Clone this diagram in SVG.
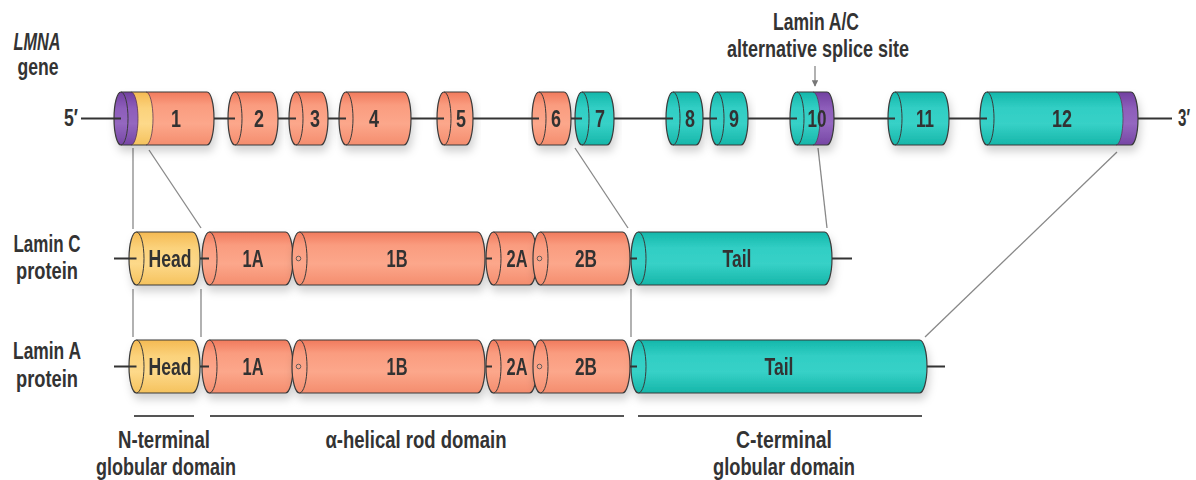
<svg xmlns="http://www.w3.org/2000/svg" width="1196" height="480" viewBox="0 0 1196 480">
<defs>
<linearGradient id="gS" x1="0" y1="0" x2="0" y2="1">
<stop offset="0" stop-color="#F17A5D"/><stop offset="0.25" stop-color="#FA9C7F"/><stop offset="0.6" stop-color="#FCA78B"/><stop offset="1" stop-color="#F48D6E"/>
</linearGradient>
<linearGradient id="gT" x1="0" y1="0" x2="0" y2="1">
<stop offset="0" stop-color="#14B7AA"/><stop offset="0.3" stop-color="#31CEC4"/><stop offset="0.6" stop-color="#37D1C7"/><stop offset="1" stop-color="#16B6A9"/>
</linearGradient>
<linearGradient id="gY" x1="0" y1="0" x2="0" y2="1">
<stop offset="0" stop-color="#F5BA52"/><stop offset="0.3" stop-color="#FBD27B"/><stop offset="0.6" stop-color="#FDD98A"/><stop offset="1" stop-color="#F5C25D"/>
</linearGradient>
<linearGradient id="gP" x1="0" y1="0" x2="0" y2="1">
<stop offset="0" stop-color="#7140A0"/><stop offset="0.3" stop-color="#8D5DBA"/><stop offset="0.6" stop-color="#9467C0"/><stop offset="1" stop-color="#7646A4"/>
</linearGradient>
<filter id="sh" x="-10%" y="-30%" width="130%" height="180%">
<feDropShadow dx="2" dy="6" stdDeviation="4" flood-color="#000" flood-opacity="0.18"/>
</filter>
<marker id="arr" viewBox="0 0 10 10" refX="9" refY="5" markerWidth="5" markerHeight="5" orient="auto">
<path d="M0,0 L10,5 L0,10 Z" fill="#777"/>
</marker>
<style>
.t{font-family:"Liberation Sans",Arial,sans-serif;font-weight:bold;font-size:23px;fill:#333;text-anchor:middle}
.o{fill:none;stroke:#3a3a3a;stroke-width:1.2}
.ia{fill:none;stroke:#3a3a3a;stroke-width:1}
.b{fill:none;stroke:#5a3a55;stroke-width:0.8}
.s{fill:url(#gS)}.tl{fill:url(#gT)}.y{fill:url(#gY)}.p{fill:url(#gP)}
.ln{stroke:#333;stroke-width:2.2;fill:none}
.cn{stroke:#888;stroke-width:1.3;fill:none}
.br{stroke:#555;stroke-width:2;fill:none}
.hc{fill:#FCA78B;stroke:#555;stroke-width:0.9}
</style>
</defs>
<rect width="1196" height="480" fill="#fff"/>

<g id="labels">
<text class="t" x="37" y="50" font-style="italic" textLength="47" lengthAdjust="spacingAndGlyphs">LMNA</text>
<text class="t" x="38" y="75" textLength="41" lengthAdjust="spacingAndGlyphs">gene</text>
<text class="t" x="816" y="30" textLength="86" lengthAdjust="spacingAndGlyphs">Lamin A/C</text>
<text class="t" x="818" y="57" textLength="182" lengthAdjust="spacingAndGlyphs">alternative splice site</text>
<text class="t" x="71" y="126" textLength="14" lengthAdjust="spacingAndGlyphs">5′</text>
<text class="t" x="1184" y="126" textLength="12" lengthAdjust="spacingAndGlyphs">3′</text>
<text class="t" x="47" y="252" textLength="67" lengthAdjust="spacingAndGlyphs">Lamin C</text>
<text class="t" x="47" y="279" textLength="62" lengthAdjust="spacingAndGlyphs">protein</text>
<text class="t" x="47" y="359" textLength="68" lengthAdjust="spacingAndGlyphs">Lamin A</text>
<text class="t" x="47" y="387" textLength="62" lengthAdjust="spacingAndGlyphs">protein</text>
<text class="t" x="164" y="448" textLength="92" lengthAdjust="spacingAndGlyphs">N-terminal</text>
<text class="t" x="166" y="475" textLength="140" lengthAdjust="spacingAndGlyphs">globular domain</text>
<text class="t" x="416" y="448" textLength="181" lengthAdjust="spacingAndGlyphs">α-helical rod domain</text>
<text class="t" x="784" y="448" textLength="96" lengthAdjust="spacingAndGlyphs">C-terminal</text>
<text class="t" x="784" y="475" textLength="142" lengthAdjust="spacingAndGlyphs">globular domain</text>
</g>

<g id="connectors">
<line class="cn" x1="133" y1="148" x2="133" y2="229"/>
<line class="cn" x1="149" y1="150" x2="201" y2="228"/>
<line class="cn" x1="575" y1="148" x2="628" y2="228"/>
<line class="cn" x1="818" y1="148" x2="827" y2="228"/>
<line class="cn" x1="1117" y1="152" x2="925" y2="337"/>
<line class="cn" x1="133" y1="289" x2="133" y2="337"/>
<line class="cn" x1="201" y1="289" x2="201" y2="337"/>
<line class="cn" x1="631" y1="289" x2="631" y2="337"/>
<line class="cn" x1="815" y1="66" x2="815" y2="86" marker-end="url(#arr)"/>
<line class="br" x1="134" y1="416" x2="194" y2="416"/>
<line class="br" x1="210" y1="416" x2="624" y2="416"/>
<line class="br" x1="638" y1="416" x2="922" y2="416"/>
</g>

<g id="exon1" filter="url(#sh)">
<path class="s" d="M121,92 L207,92 A7 26.5 0 0 1 207,145 L121,145 A7 26.5 0 0 1 121,92Z"/>
<path class="y" d="M131,92 L146,92 A7 26.5 0 0 1 146,145 L131,145 A7 26.5 0 0 0 131,92Z"/>
<path class="p" d="M121,92 L131,92 A7 26.5 0 0 1 131,145 L121,145 A7 26.5 0 0 1 121,92Z"/>
<path class="b" d="M131,92 A7 26.5 0 0 1 131,145"/>
<path class="b" d="M146,92 A7 26.5 0 0 1 146,145"/>
<path class="ia" d="M121,92 A7 26.5 0 0 1 121,145"/>
<path class="o" d="M121,92 L207,92 A7 26.5 0 0 1 207,145 L121,145 A7 26.5 0 0 1 121,92Z"/>
<text class="t" x="176" y="127" textLength="10" lengthAdjust="spacingAndGlyphs">1</text>
</g>
<g id="exon2" filter="url(#sh)">
<path class="s" d="M235,92 L271,92 A7 26.5 0 0 1 271,145 L235,145 A7 26.5 0 0 1 235,92Z"/>
<path class="ia" d="M235,92 A7 26.5 0 0 1 235,145"/>
<path class="o" d="M235,92 L271,92 A7 26.5 0 0 1 271,145 L235,145 A7 26.5 0 0 1 235,92Z"/>
<text class="t" x="259" y="127" textLength="10" lengthAdjust="spacingAndGlyphs">2</text>
</g>
<g id="exon3" filter="url(#sh)">
<path class="s" d="M296,92 L321,92 A7 26.5 0 0 1 321,145 L296,145 A7 26.5 0 0 1 296,92Z"/>
<path class="ia" d="M296,92 A7 26.5 0 0 1 296,145"/>
<path class="o" d="M296,92 L321,92 A7 26.5 0 0 1 321,145 L296,145 A7 26.5 0 0 1 296,92Z"/>
<text class="t" x="315" y="127" textLength="10" lengthAdjust="spacingAndGlyphs">3</text>
</g>
<g id="exon4" filter="url(#sh)">
<path class="s" d="M346,92 L404,92 A7 26.5 0 0 1 404,145 L346,145 A7 26.5 0 0 1 346,92Z"/>
<path class="ia" d="M346,92 A7 26.5 0 0 1 346,145"/>
<path class="o" d="M346,92 L404,92 A7 26.5 0 0 1 404,145 L346,145 A7 26.5 0 0 1 346,92Z"/>
<text class="t" x="374" y="127" textLength="10" lengthAdjust="spacingAndGlyphs">4</text>
</g>
<g id="exon5" filter="url(#sh)">
<path class="s" d="M444,92 L466,92 A7 26.5 0 0 1 466,145 L444,145 A7 26.5 0 0 1 444,92Z"/>
<path class="ia" d="M444,92 A7 26.5 0 0 1 444,145"/>
<path class="o" d="M444,92 L466,92 A7 26.5 0 0 1 466,145 L444,145 A7 26.5 0 0 1 444,92Z"/>
<text class="t" x="461" y="127" textLength="10" lengthAdjust="spacingAndGlyphs">5</text>
</g>
<g id="exon6" filter="url(#sh)">
<path class="s" d="M539,92 L564,92 A7 26.5 0 0 1 564,145 L539,145 A7 26.5 0 0 1 539,92Z"/>
<path class="ia" d="M539,92 A7 26.5 0 0 1 539,145"/>
<path class="o" d="M539,92 L564,92 A7 26.5 0 0 1 564,145 L539,145 A7 26.5 0 0 1 539,92Z"/>
<text class="t" x="556" y="127" textLength="10" lengthAdjust="spacingAndGlyphs">6</text>
</g>
<g id="exon7" filter="url(#sh)">
<path class="tl" d="M582,92 L607,92 A7 26.5 0 0 1 607,145 L582,145 A7 26.5 0 0 1 582,92Z"/>
<path class="ia" d="M582,92 A7 26.5 0 0 1 582,145"/>
<path class="o" d="M582,92 L607,92 A7 26.5 0 0 1 607,145 L582,145 A7 26.5 0 0 1 582,92Z"/>
<text class="t" x="600" y="127" textLength="10" lengthAdjust="spacingAndGlyphs">7</text>
</g>
<g id="exon8" filter="url(#sh)">
<path class="tl" d="M673,92 L696,92 A7 26.5 0 0 1 696,145 L673,145 A7 26.5 0 0 1 673,92Z"/>
<path class="ia" d="M673,92 A7 26.5 0 0 1 673,145"/>
<path class="o" d="M673,92 L696,92 A7 26.5 0 0 1 696,145 L673,145 A7 26.5 0 0 1 673,92Z"/>
<text class="t" x="690" y="127" textLength="10" lengthAdjust="spacingAndGlyphs">8</text>
</g>
<g id="exon9" filter="url(#sh)">
<path class="tl" d="M717,92 L741,92 A7 26.5 0 0 1 741,145 L717,145 A7 26.5 0 0 1 717,92Z"/>
<path class="ia" d="M717,92 A7 26.5 0 0 1 717,145"/>
<path class="o" d="M717,92 L741,92 A7 26.5 0 0 1 741,145 L717,145 A7 26.5 0 0 1 717,92Z"/>
<text class="t" x="734" y="127" textLength="10" lengthAdjust="spacingAndGlyphs">9</text>
</g>
<g id="exon10" filter="url(#sh)">
<path class="tl" d="M797,92 L827,92 A7 26.5 0 0 1 827,145 L797,145 A7 26.5 0 0 1 797,92Z"/>
<path class="p" d="M813,92 L827,92 A7 26.5 0 0 1 827,145 L813,145 A7 26.5 0 0 0 813,92Z"/>
<path class="b" d="M813,92 A7 26.5 0 0 1 813,145"/>
<path class="ia" d="M797,92 A7 26.5 0 0 1 797,145"/>
<path class="o" d="M797,92 L827,92 A7 26.5 0 0 1 827,145 L797,145 A7 26.5 0 0 1 797,92Z"/>
<text class="t" x="817" y="127" textLength="19" lengthAdjust="spacingAndGlyphs">10</text>
</g>
<g id="exon11" filter="url(#sh)">
<path class="tl" d="M895,92 L942,92 A7 26.5 0 0 1 942,145 L895,145 A7 26.5 0 0 1 895,92Z"/>
<path class="ia" d="M895,92 A7 26.5 0 0 1 895,145"/>
<path class="o" d="M895,92 L942,92 A7 26.5 0 0 1 942,145 L895,145 A7 26.5 0 0 1 895,92Z"/>
<text class="t" x="925" y="127" textLength="18" lengthAdjust="spacingAndGlyphs">11</text>
</g>
<g id="exon12" filter="url(#sh)">
<path class="tl" d="M987,92 L1131,92 A7 26.5 0 0 1 1131,145 L987,145 A7 26.5 0 0 1 987,92Z"/>
<path class="p" d="M1116,92 L1131,92 A7 26.5 0 0 1 1131,145 L1116,145 A7 26.5 0 0 0 1116,92Z"/>
<path class="b" d="M1116,92 A7 26.5 0 0 1 1116,145"/>
<path class="ia" d="M987,92 A7 26.5 0 0 1 987,145"/>
<path class="o" d="M987,92 L1131,92 A7 26.5 0 0 1 1131,145 L987,145 A7 26.5 0 0 1 987,92Z"/>
<text class="t" x="1062" y="127" textLength="20" lengthAdjust="spacingAndGlyphs">12</text>
</g>
<g id="gene-line">
<path class="ln" d="M81,118.5H121 M214,118.5H235 M278,118.5H296 M328,118.5H346 M411,118.5H444 M473,118.5H539 M571,118.5H582 M614,118.5H673 M703,118.5H717 M748,118.5H797 M834,118.5H895 M949,118.5H987 M1138,118.5H1172"/>
</g>

<g id="laminC-head" filter="url(#sh)">
<path class="y" d="M136.5,232 L192.5,232 A7.5 26.5 0 0 1 192.5,285 L136.5,285 A7.5 26.5 0 0 1 136.5,232Z"/>
<path class="ia" d="M136.5,232 A7.5 26.5 0 0 1 136.5,285"/>
<path class="o" d="M136.5,232 L192.5,232 A7.5 26.5 0 0 1 192.5,285 L136.5,285 A7.5 26.5 0 0 1 136.5,232Z"/>
<text class="t" x="170" y="267" textLength="43" lengthAdjust="spacingAndGlyphs">Head</text>
</g>
<g id="laminC-1A" filter="url(#sh)">
<path class="s" d="M209.5,232 L285.5,232 A7.5 26.5 0 0 1 285.5,285 L209.5,285 A7.5 26.5 0 0 1 209.5,232Z"/>
<path class="ia" d="M209.5,232 A7.5 26.5 0 0 1 209.5,285"/>
<path class="o" d="M209.5,232 L285.5,232 A7.5 26.5 0 0 1 285.5,285 L209.5,285 A7.5 26.5 0 0 1 209.5,232Z"/>
<text class="t" x="253" y="267" textLength="21" lengthAdjust="spacingAndGlyphs">1A</text>
</g>
<g id="laminC-1B" filter="url(#sh)">
<path class="s" d="M299.5,232 L477.5,232 A7.5 26.5 0 0 1 477.5,285 L299.5,285 A7.5 26.5 0 0 1 299.5,232Z"/>
<path class="ia" d="M299.5,232 A7.5 26.5 0 0 1 299.5,285"/>
<path class="o" d="M299.5,232 L477.5,232 A7.5 26.5 0 0 1 477.5,285 L299.5,285 A7.5 26.5 0 0 1 299.5,232Z"/>
<circle class="hc" cx="298.5" cy="258.5" r="2.3"/>
<text class="t" x="397" y="267" textLength="21" lengthAdjust="spacingAndGlyphs">1B</text>
</g>
<g id="laminC-2A" filter="url(#sh)">
<path class="s" d="M493.5,232 L529.5,232 A7.5 26.5 0 0 1 529.5,285 L493.5,285 A7.5 26.5 0 0 1 493.5,232Z"/>
<path class="ia" d="M493.5,232 A7.5 26.5 0 0 1 493.5,285"/>
<path class="o" d="M493.5,232 L529.5,232 A7.5 26.5 0 0 1 529.5,285 L493.5,285 A7.5 26.5 0 0 1 493.5,232Z"/>
<text class="t" x="517" y="267" textLength="21" lengthAdjust="spacingAndGlyphs">2A</text>
</g>
<g id="laminC-2B" filter="url(#sh)">
<path class="s" d="M540.5,232 L622.5,232 A7.5 26.5 0 0 1 622.5,285 L540.5,285 A7.5 26.5 0 0 1 540.5,232Z"/>
<path class="ia" d="M540.5,232 A7.5 26.5 0 0 1 540.5,285"/>
<path class="o" d="M540.5,232 L622.5,232 A7.5 26.5 0 0 1 622.5,285 L540.5,285 A7.5 26.5 0 0 1 540.5,232Z"/>
<circle class="hc" cx="539.5" cy="258.5" r="2.3"/>
<text class="t" x="586" y="267" textLength="22" lengthAdjust="spacingAndGlyphs">2B</text>
</g>
<g id="laminC-tail" filter="url(#sh)">
<path class="tl" d="M638.5,232 L824.5,232 A7.5 26.5 0 0 1 824.5,285 L638.5,285 A7.5 26.5 0 0 1 638.5,232Z"/>
<path class="ia" d="M638.5,232 A7.5 26.5 0 0 1 638.5,285"/>
<path class="o" d="M638.5,232 L824.5,232 A7.5 26.5 0 0 1 824.5,285 L638.5,285 A7.5 26.5 0 0 1 638.5,232Z"/>
<text class="t" x="737" y="267" textLength="29" lengthAdjust="spacingAndGlyphs">Tail</text>
</g>
<g id="laminC-line">
<path class="ln" d="M114,258.5H136.5 M200,258.5H209 M486,258.5H492 M630,258.5H637 M832,258.5H852"/>
</g>

<g id="laminA-head" filter="url(#sh)">
<path class="y" d="M136.5,340 L192.5,340 A7.5 26.5 0 0 1 192.5,393 L136.5,393 A7.5 26.5 0 0 1 136.5,340Z"/>
<path class="ia" d="M136.5,340 A7.5 26.5 0 0 1 136.5,393"/>
<path class="o" d="M136.5,340 L192.5,340 A7.5 26.5 0 0 1 192.5,393 L136.5,393 A7.5 26.5 0 0 1 136.5,340Z"/>
<text class="t" x="170" y="375" textLength="43" lengthAdjust="spacingAndGlyphs">Head</text>
</g>
<g id="laminA-1A" filter="url(#sh)">
<path class="s" d="M209.5,340 L285.5,340 A7.5 26.5 0 0 1 285.5,393 L209.5,393 A7.5 26.5 0 0 1 209.5,340Z"/>
<path class="ia" d="M209.5,340 A7.5 26.5 0 0 1 209.5,393"/>
<path class="o" d="M209.5,340 L285.5,340 A7.5 26.5 0 0 1 285.5,393 L209.5,393 A7.5 26.5 0 0 1 209.5,340Z"/>
<text class="t" x="253" y="375" textLength="21" lengthAdjust="spacingAndGlyphs">1A</text>
</g>
<g id="laminA-1B" filter="url(#sh)">
<path class="s" d="M299.5,340 L477.5,340 A7.5 26.5 0 0 1 477.5,393 L299.5,393 A7.5 26.5 0 0 1 299.5,340Z"/>
<path class="ia" d="M299.5,340 A7.5 26.5 0 0 1 299.5,393"/>
<path class="o" d="M299.5,340 L477.5,340 A7.5 26.5 0 0 1 477.5,393 L299.5,393 A7.5 26.5 0 0 1 299.5,340Z"/>
<circle class="hc" cx="298.5" cy="366.5" r="2.3"/>
<text class="t" x="397" y="375" textLength="21" lengthAdjust="spacingAndGlyphs">1B</text>
</g>
<g id="laminA-2A" filter="url(#sh)">
<path class="s" d="M493.5,340 L529.5,340 A7.5 26.5 0 0 1 529.5,393 L493.5,393 A7.5 26.5 0 0 1 493.5,340Z"/>
<path class="ia" d="M493.5,340 A7.5 26.5 0 0 1 493.5,393"/>
<path class="o" d="M493.5,340 L529.5,340 A7.5 26.5 0 0 1 529.5,393 L493.5,393 A7.5 26.5 0 0 1 493.5,340Z"/>
<text class="t" x="517" y="375" textLength="21" lengthAdjust="spacingAndGlyphs">2A</text>
</g>
<g id="laminA-2B" filter="url(#sh)">
<path class="s" d="M540.5,340 L622.5,340 A7.5 26.5 0 0 1 622.5,393 L540.5,393 A7.5 26.5 0 0 1 540.5,340Z"/>
<path class="ia" d="M540.5,340 A7.5 26.5 0 0 1 540.5,393"/>
<path class="o" d="M540.5,340 L622.5,340 A7.5 26.5 0 0 1 622.5,393 L540.5,393 A7.5 26.5 0 0 1 540.5,340Z"/>
<circle class="hc" cx="539.5" cy="366.5" r="2.3"/>
<text class="t" x="586" y="375" textLength="22" lengthAdjust="spacingAndGlyphs">2B</text>
</g>
<g id="laminA-tail" filter="url(#sh)">
<path class="tl" d="M638.5,340 L919.5,340 A7.5 26.5 0 0 1 919.5,393 L638.5,393 A7.5 26.5 0 0 1 638.5,340Z"/>
<path class="ia" d="M638.5,340 A7.5 26.5 0 0 1 638.5,393"/>
<path class="o" d="M638.5,340 L919.5,340 A7.5 26.5 0 0 1 919.5,393 L638.5,393 A7.5 26.5 0 0 1 638.5,340Z"/>
<text class="t" x="779" y="375" textLength="29" lengthAdjust="spacingAndGlyphs">Tail</text>
</g>
<g id="laminA-line">
<path class="ln" d="M114,366.5H136.5 M200,366.5H209 M486,366.5H492 M630,366.5H637 M927,366.5H945"/>
</g>
</svg>
